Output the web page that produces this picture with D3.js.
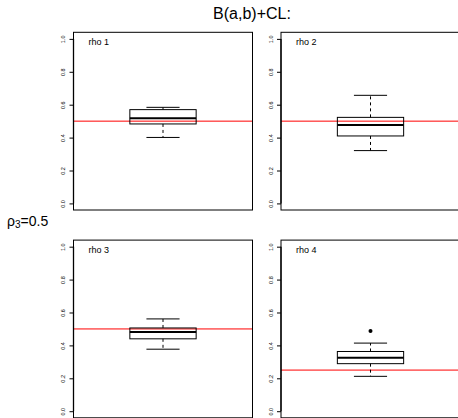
<!DOCTYPE html>
<html><head><meta charset="utf-8">
<script src="https://cdn.jsdelivr.net/npm/d3@7"></script>
<style>body{margin:0;background:#fff;} svg{display:block;font-family:"Liberation Sans",Arial,sans-serif;}</style>
</head><body>
<script>
const panelLabels = ["rho 1", "rho 2", "rho 3", "rho 4"];
const whiskerLow  = [0.401, 0.321, 0.377, 0.212];
const q1          = [0.483, 0.410, 0.440, 0.289];
const medians     = [0.517, 0.477, 0.482, 0.325];
const q3          = [0.570, 0.523, 0.506, 0.363];
const whiskerHigh = [0.584, 0.657, 0.561, 0.414];
const outliers    = [[], [], [], [0.487]];
const trueValues  = [0.5, 0.5, 0.5, 0.25];
const yTicks      = [0, 0.2, 0.4, 0.6, 0.8, 1.0];
const titleText   = "B(a,b)+CL:";

const W = 458, H = 418;
const svg = d3.select("body").append("svg").attr("width", W).attr("height", H);

svg.append("text").attr("x", 252).attr("y", 19).attr("text-anchor", "middle")
  .attr("font-size", 16).text(titleText);

const rl = svg.append("text").attr("x", 7).attr("y", 226).attr("font-size", 14);
rl.append("tspan").text("ρ");
rl.append("tspan").attr("font-size", 10).attr("dy", 2).text("3");
rl.append("tspan").attr("dy", -2).text("=0.5");

const pw = 179, ph = 177.7;
const lefts = [73.5, 281, 73.5, 281];
const tops = [32.3, 32.3, 240.1, 240.1];

panelLabels.forEach((lab, i) => {
  const g = svg.append("g").attr("transform", `translate(${lefts[i]},${tops[i]})`);
  const y = d3.scaleLinear().domain([-0.04, 1.04]).range([ph, 0]);
  const x = d3.scaleLinear().domain([0.46, 1.54]).range([0, pw]);
  // true value line
  g.append("line").attr("x1", 0).attr("x2", pw).attr("y1", y(trueValues[i])).attr("y2", y(trueValues[i]))
    .attr("stroke", "#ff0000").attr("stroke-width", 1);
  // whiskers
  const cx = x(1);
  g.append("line").attr("x1", cx).attr("x2", cx).attr("y1", y(q3[i])).attr("y2", y(whiskerHigh[i]))
    .attr("stroke", "#000").attr("stroke-dasharray", "3,3");
  g.append("line").attr("x1", cx).attr("x2", cx).attr("y1", y(q1[i])).attr("y2", y(whiskerLow[i]))
    .attr("stroke", "#000").attr("stroke-dasharray", "3,3");
  [whiskerHigh[i], whiskerLow[i]].forEach(v => {
    g.append("line").attr("x1", x(0.9)).attr("x2", x(1.1)).attr("y1", y(v)).attr("y2", y(v))
      .attr("stroke", "#000").attr("stroke-width", 1);
  });
  // box
  g.append("rect").attr("x", x(0.8)).attr("width", x(1.2) - x(0.8))
    .attr("y", y(q3[i])).attr("height", y(q1[i]) - y(q3[i]))
    .attr("fill", "none").attr("stroke", "#000").attr("stroke-width", 1);
  g.append("line").attr("x1", x(0.8)).attr("x2", x(1.2)).attr("y1", y(medians[i])).attr("y2", y(medians[i]))
    .attr("stroke", "#000").attr("stroke-width", 2);
  outliers[i].forEach(v => {
    g.append("circle").attr("cx", cx).attr("cy", y(v)).attr("r", 2).attr("fill", "#000");
  });
  // frame
  g.append("rect").attr("x", 0).attr("y", 0).attr("width", pw).attr("height", ph)
    .attr("fill", "none").attr("stroke", "#000").attr("stroke-width", 1);
  // axis
  const ax = g.append("g").call(d3.axisLeft(y).tickValues(yTicks).tickSize(4).tickFormat(d3.format(".1f")));
  ax.select(".domain").attr("d", `M0,${y(0)}V${y(1)}`).attr("stroke-width", 1.3);
  ax.selectAll(".tick text").attr("font-size", 5.5).attr("font-family", "Liberation Sans, Arial, sans-serif")
    .attr("fill", "#000")
    .attr("transform", "rotate(-90)").attr("x", 0).attr("y", -10).attr("dy", "0.35em").attr("text-anchor", "middle");
  ax.selectAll(".tick text").each(function(){ /* rotate around tick */ });
  g.append("text").attr("x", 15).attr("y", 13).attr("font-size", 9).text(lab);
});
</script>
</body></html>
